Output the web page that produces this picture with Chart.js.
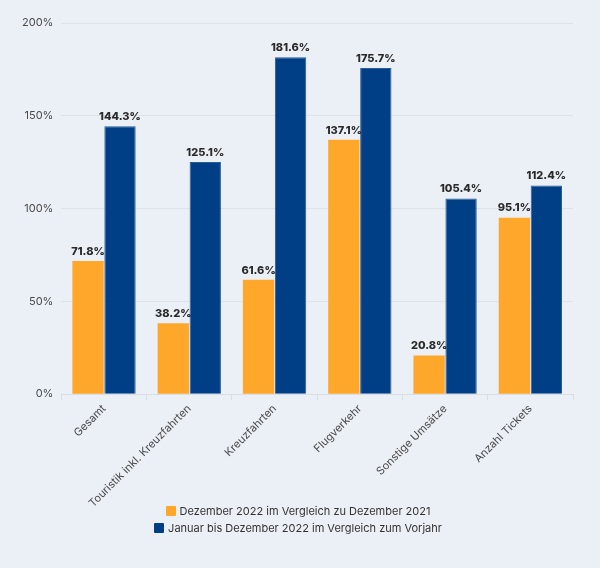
<!DOCTYPE html>
<html>
<head>
<meta charset="utf-8">
<script src="https://cdn.jsdelivr.net/npm/chart.js@4/dist/chart.umd.min.js"></script>
<style>
  html, body { margin: 0; padding: 0; background: #ebeff6; }
  #wrap { position: relative; width: 600px; height: 568px; }
  #legend { position: absolute; left: 0; width: 596px; top: 503px; text-align: center;
            font-family: Inter, sans-serif; font-size: 11px; color: #333; line-height: 17px; }
  #legend div { display: block; }
  #legend span.box { display: inline-block; width: 10px; height: 10px; vertical-align: -1px; margin-right: 4px; border-radius: 1px; }
</style>
</head>
<body>
<div id="wrap">
  <canvas id="c" width="600" height="568"></canvas>
  <div id="legend"></div>
</div>
<script>
const categories = ["Gesamt", "Touristik inkl. Kreuzfahrten", "Kreuzfahrten", "Flugverkehr", "Sonstige Umsätze", "Anzahl Tickets"];
const seriesNames = ["Dezember 2022 im Vergleich zu Dezember 2021", "Januar bis Dezember 2022 im Vergleich zum Vorjahr"];
const decValues = [71.8, 38.2, 61.6, 137.1, 20.8, 95.1];
const yearValues = [144.3, 125.1, 181.6, 175.7, 105.4, 112.4];
const yTicks = [0, 50, 100, 150, 200];
const colors = ["#ffa72b", "#003f86"];

const fmt = v => v.toFixed(1) + "%";

const labelPlugin = {
  id: "barLabels",
  afterDatasetsDraw(chart) {
    const ctx = chart.ctx;
    ctx.save();
    ctx.font = "800 11px Inter, sans-serif";
    ctx.fillStyle = "#2a2a2a";
    ctx.textAlign = "center";
    ctx.textBaseline = "bottom";
    chart.data.datasets.forEach((ds, i) => {
      const meta = chart.getDatasetMeta(i);
      meta.data.forEach((bar, j) => {
        ctx.fillText(fmt(ds.data[j]), bar.x, bar.y - 4);
      });
    });
    ctx.restore();
  }
};

const legendEl = document.getElementById("legend");
seriesNames.forEach((n, i) => {
  const d = document.createElement("div");
  const b = document.createElement("span");
  b.className = "box";
  b.style.background = colors[i];
  d.appendChild(b);
  d.appendChild(document.createTextNode(n));
  legendEl.appendChild(d);
});

new Chart(document.getElementById("c"), {
  type: "bar",
  data: {
    labels: categories,
    datasets: [
      { label: seriesNames[0], data: decValues, backgroundColor: colors[0], borderWidth: 0,
        categoryPercentage: 0.75, barPercentage: 0.98 },
      { label: seriesNames[1], data: yearValues, backgroundColor: colors[1], borderColor: "#2a5c9a", borderWidth: 1,
        categoryPercentage: 0.75, barPercentage: 0.98 }
    ]
  },
  options: {
    responsive: false,
    animation: false,
    devicePixelRatio: 1,
    layout: { padding: { left: 14, right: 27, top: 23, bottom: 56 } },
    plugins: {
      legend: { display: false },
      tooltip: { enabled: false }
    },
    scales: {
      x: {
        grid: { display: true, drawOnChartArea: false, drawTicks: true, tickLength: 6, color: "#d9dde4" },
        border: { display: true, color: "#d9dde4" },
        ticks: {
          color: "#4a4a4a", font: { family: "Inter, sans-serif", size: 11 },
          maxRotation: 45, minRotation: 45, padding: 2
        }
      },
      y: {
        min: 0, max: 200,
        afterBuildTicks(scale) { scale.ticks = yTicks.map(v => ({ value: v })); },
        grid: { color: "#dde1e8", drawTicks: false },
        border: { display: false },
        ticks: {
          color: "#4a4a4a", font: { family: "Inter, sans-serif", size: 11 },
          padding: 8,
          callback: v => v + "%"
        }
      }
    }
  },
  plugins: [labelPlugin]
});
</script>
</body>
</html>
